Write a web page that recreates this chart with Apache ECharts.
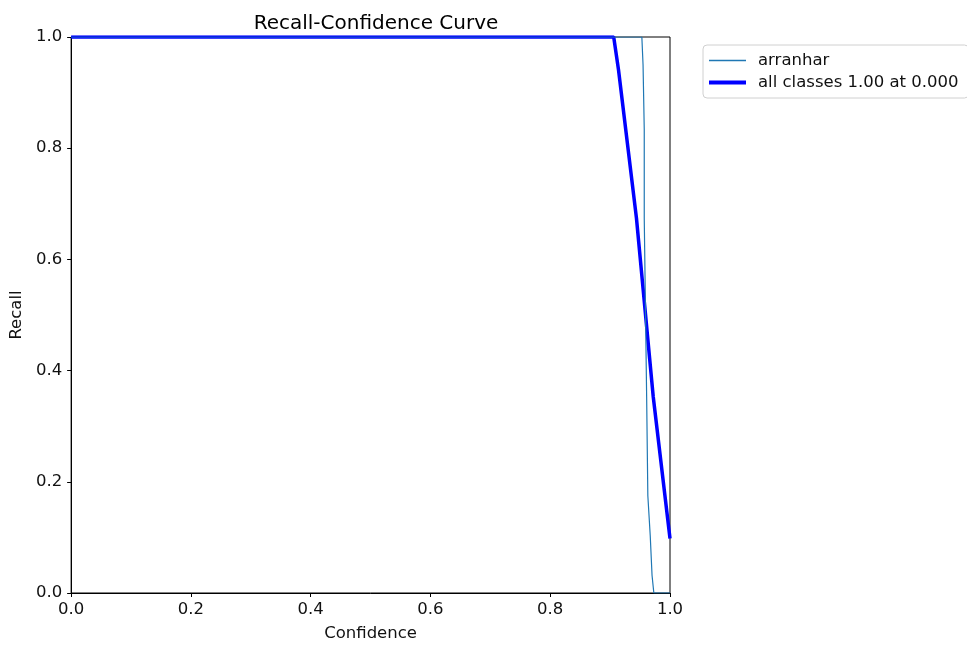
<!DOCTYPE html>
<html>
<head>
<meta charset="utf-8">
<script src="https://cdn.jsdelivr.net/npm/echarts@6/dist/echarts.min.js"></script>
<style>
  html, body { margin: 0; padding: 0; background: #fff; }
  #chart { width: 967px; height: 647px; }
</style>
</head>
<body>
<div id="chart"></div>
<script>
// values: [confidence, recall]
let classCurve = [
  [0, 1], [0.953, 1], [0.955, 0.95], [0.957, 0.834], [0.957, 0.674],
  [0.961, 0.353], [0.963, 0.175], [0.967, 0.103], [0.970, 0.032],
  [0.973, 0], [1, 0]
];
let allClassesCurve = [
  [0, 1], [0.906, 1], [0.914, 0.941], [0.944, 0.674],
  [0.972, 0.353], [1, 0.098]
];
let seriesNames = ['arranhar', 'all classes 1.00 at 0.000'];

let font = 'DejaVu Sans';
let myChart = echarts.init(document.getElementById('chart'));
let option = {
  animation: false,
  title: {
    text: 'Recall-Confidence Curve',
    left: 371,
    textAlign: 'center',
    top: 9,
    textStyle: { fontFamily: font, fontSize: 20, fontWeight: 'normal', color: '#000' }
  },
  grid: {
    left: 71, right: 297, top: 37, bottom: 49,
    show: true, borderColor: '#000', borderWidth: 1
  },
  legend: {
    orient: 'vertical',
    left: 703,
    top: 45,
    padding: [7, 10, 7, 6],
    itemGap: 5,
    itemWidth: 37,
    itemHeight: 18,
    backgroundColor: '#fff',
    borderColor: '#d0d0d0',
    borderWidth: 1,
    borderRadius: 4,
    textStyle: { fontFamily: font, fontSize: 16.5, color: '#111', padding: [0, 0, 0, 7] },
    data: [
      { name: seriesNames[0], icon: 'path://M0,0 H40 V1.5 H0 Z' },
      { name: seriesNames[1], icon: 'path://M0,0 H40 V4.5 H0 Z' }
    ]
  },
  xAxis: {
    type: 'value',
    min: 0, max: 1, interval: 0.2,
    name: 'Confidence',
    nameLocation: 'middle',
    nameGap: 32,
    nameTextStyle: { fontFamily: font, fontSize: 16.5, color: '#111' },
    axisLine: { show: true, lineStyle: { color: '#000', width: 1 } },
    axisTick: { show: true, length: 4, lineStyle: { color: '#000' } },
    axisLabel: {
      fontFamily: font, fontSize: 16.5, color: '#111', margin: 8,
      formatter: v => v.toFixed(1)
    },
    splitLine: { show: false }
  },
  yAxis: {
    type: 'value',
    min: 0, max: 1, interval: 0.2,
    name: 'Recall',
    nameLocation: 'middle',
    nameGap: 46,
    nameTextStyle: { fontFamily: font, fontSize: 16.5, color: '#111' },
    axisLine: { show: true, lineStyle: { color: '#000', width: 1 } },
    axisTick: { show: true, length: 4, lineStyle: { color: '#000' } },
    axisLabel: {
      fontFamily: font, fontSize: 16.5, color: '#111', margin: 9,
      formatter: v => v.toFixed(1)
    },
    splitLine: { show: false }
  },
  series: [
    {
      name: seriesNames[0],
      type: 'line',
      data: classCurve,
      showSymbol: false,
      symbol: 'none',
      color: '#1f77b4',
      lineStyle: { width: 1.2, color: '#1f77b4' },
      z: 3
    },
    {
      name: seriesNames[1],
      type: 'line',
      data: allClassesCurve,
      showSymbol: false,
      symbol: 'none',
      color: '#0000ff',
      lineStyle: { width: 3.5, color: '#0000ff' },
      z: 2
    }
  ]
};
myChart.setOption(option);
</script>
</body>
</html>
